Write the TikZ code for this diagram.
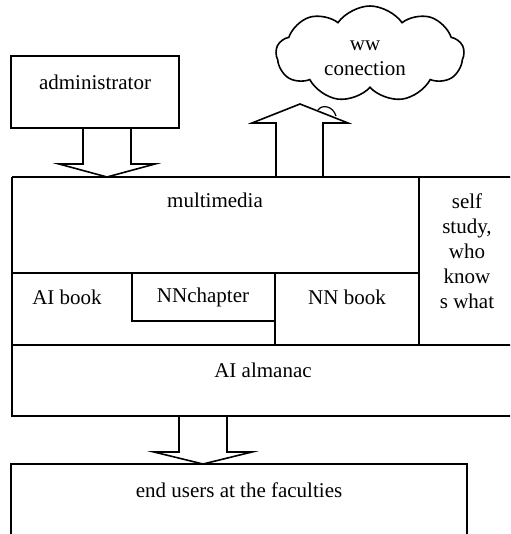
\documentclass[tikz,border=0pt]{standalone}
\usepackage{fontspec}
\setmainfont{Liberation Serif}
\usetikzlibrary{shapes.symbols}
\begin{document}
\begin{tikzpicture}[x=1pt,y=-1pt,
  line width=1.6pt, line join=miter,
  lbl/.style={font=\fontsize{21}{25}\selectfont, inner sep=0pt, align=center},
  blk/.style={draw, line width=1.6pt}]
\useasboundingbox (0,0) rectangle (510,534);
\clip (0,0) rectangle (510,534);
% administrator
\draw[blk] (11,56) rectangle (179,128);
\node[lbl] (adm) at (95,82) {administrator};
% down arrow admin -> main
\draw[blk] (83,128) -- (83,164) -- (59,164) -- (107,177) -- (155,164) -- (131,164) -- (131,128);
% cloud
\node[cloud, draw, line width=1.6pt, cloud puffs=9, cloud puff arc=110, aspect=1.95,
      minimum width=188pt, minimum height=96pt, inner sep=0pt] (cloud) at (370,54) {};
\node[lbl] (ww) at (365,58) {ww\\conection};
% up arrow main -> cloud
\draw[blk] (276,177) -- (276,123) -- (252,123) -- (300,104) -- (348,123) -- (323,123) -- (323,177);
\draw[line width=1.2pt] (318,110) .. controls (322,104) and (333,106) .. (336,116);
% main structure
\draw[blk] (12,177) -- (520,177);
\draw[blk] (12,177) -- (12,416) -- (520,416);
\draw[blk] (12,273) -- (419,273);
\draw[blk] (419,177) -- (419,345);
\draw[blk] (12,345) -- (520,345);
\draw[blk] (132,273) -- (132,321) -- (275,321);
\draw[blk] (275,273) -- (275,345);
\node[lbl] (mm) at (215,200) {multimedia};
\node[lbl] (self) at (467,251) {self\\study,\\who\\know\\s what};
\node[lbl] (aib) at (67,297) {AI book};
\node[lbl] (nnc) at (203,297) {NNchapter};
\node[lbl] (nnb) at (347,297) {NN book};
\node[lbl] (alm) at (263,370) {AI almanac};
% down arrow almanac -> end users
\draw[blk] (179,416) -- (179,452) -- (154,452) -- (203,464) -- (252,452) -- (227,452) -- (227,416);
% end users
\draw[blk] (11,545) -- (11,464) -- (467,464) -- (467,545);
\node[lbl] (end) at (239,490) {end users at the faculties};
\end{tikzpicture}
\end{document}
